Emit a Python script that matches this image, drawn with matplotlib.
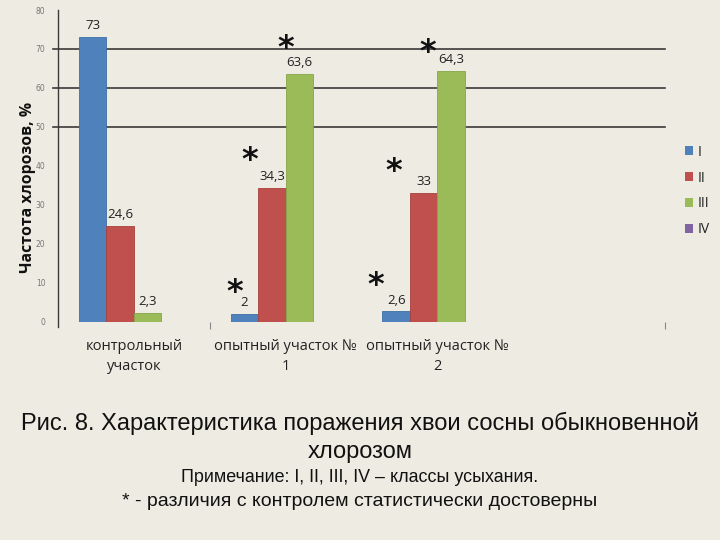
import matplotlib
matplotlib.use("Agg")
import matplotlib.pyplot as plt
from matplotlib.patches import Patch
import numpy as np

categories = ["контрольный\nучасток", "опытный участок №\n1", "опытный участок №\n2", ""]
series_names = ["I", "II", "III", "IV"]
series_I = [73, 2, 2.6, np.nan]
series_II = [24.6, 34.3, 33, np.nan]
series_III = [2.3, 63.6, 64.3, np.nan]
series_IV = [np.nan, np.nan, np.nan, np.nan]
labels_I = ["73", "2", "2,6"]
labels_II = ["24,6", "34,3", "33"]
labels_III = ["2,3", "63,6", "64,3"]
# significance stars: (series index, category index)
stars = [(0, 1), (1, 1), (2, 1), (0, 2), (1, 2), (2, 2)]
yticks = [0, 10, 20, 30, 40, 50, 60, 70, 80]
gridlines = [50, 60, 70]

colors = ["#4F81BD", "#C0504D", "#9BBB59", "#8064A2"]
edges = ["#3F6FA5", "#A8403D", "#86A649", "#6B5190"]
bg = "#EEEBE2"

fig = plt.figure(figsize=(7.2, 5.4), dpi=100, facecolor=bg)
ax = fig.add_axes([58/720, 1-322/540, 607/720, 312/540])
ax.set_facecolor(bg)

x = np.arange(len(categories))
w = 0.181
offsets = [-1.5*w, -0.5*w, 0.5*w, 1.5*w]
all_series = [series_I, series_II, series_III, series_IV]
all_labels = [labels_I, labels_II, labels_III, None]
lbl_font = "Open Sans"
for i, (vals, col) in enumerate(zip(all_series, colors)):
    ax.bar(x + offsets[i], vals, width=w, color=col, edgecolor=edges[i], linewidth=0.6, zorder=3)
    if all_labels[i]:
        for j, t in enumerate(all_labels[i]):
            ax.annotate(t, (x[j] + offsets[i], vals[j]), xytext=(0, 3.5), textcoords="offset points",
                        ha="center", va="bottom", fontsize=9.5, color="#222222", family=lbl_font, zorder=4)

# star offsets in points relative to bar top-center
star_off = {(0, 1): (-6.7, 15.7), (1, 1): (-15.8, 20), (2, 1): (-10, 18),
            (0, 2): (-14.6, 19), (1, 2): (-21.8, 15.4), (2, 2): (-16.8, 13.3)}
for (si, ci) in stars:
    dx, dy = star_off[(si, ci)]
    ax.annotate("*", (x[ci] + offsets[si], all_series[si][ci]), xytext=(dx, dy), textcoords="offset points",
                ha="center", va="center", fontsize=23, fontweight="bold", color="#111111",
                family="DejaVu Sans", zorder=5)

ax.set_xlim(-0.5, 3.5)
for g in gridlines:
    ax.plot([-0.535, 3.5], [g, g], color="#3A3A3A", lw=1.2, zorder=1, clip_on=False)
ax.set_yticks(yticks)
ax.set_yticklabels([str(v) for v in yticks], fontsize=5.5, color="#777777")
ax.tick_params(axis="y", length=0, pad=9)
ax.set_xticks([0.5, 3.5])
ax.set_xticklabels(["", ""])
ax.tick_params(axis="x", length=5, color="#888888", width=0.8, direction="out")
for s in ["top", "right", "bottom"]:
    ax.spines[s].set_visible(False)
ax.spines["left"].set_color("#3A3A3A")
ax.spines["left"].set_linewidth(1.0)
ax.spines["left"].set_bounds(-1.5, 80)
ax.set_ylim(-0.1, 80)

for j, c in enumerate(categories):
    if c:
        ax.text(x[j], -4.5, c, ha="center", va="top", fontsize=10.5, color="#222222",
                family=lbl_font, linespacing=1.45, transform=ax.transData)

fig.text(28/720, 1-187/540, "Частота хлорозов, %", rotation=90, ha="center", va="center",
         fontsize=11.3, fontweight="bold", color="#111111", family=lbl_font)

handles = [Patch(facecolor=c, edgecolor="none") for c in colors]
leg = fig.legend(handles, series_names, loc="center left", bbox_to_anchor=(672/720, 1-191/540),
                 frameon=False, handlelength=0.6, handleheight=0.6, labelspacing=0.78,
                 prop={"family": lbl_font, "size": 10}, handletextpad=0.35)
for t in leg.get_texts():
    t.set_color("#222222")

fig.text(0.5, 1-423/540, "Рис. 8. Характеристика поражения хвои сосны обыкновенной",
         ha="center", va="center", fontsize=17, family="Liberation Sans", color="#111111")
fig.text(0.5, 1-452/540, "хлорозом", ha="center", va="center", fontsize=17,
         family="Liberation Sans", color="#111111")
fig.text(0.5, 1-478/540, "Примечание: I, II, III, IV – классы усыхания.", ha="center", va="center",
         fontsize=12.9, family="Liberation Sans", color="#111111")
fig.text(0.5, 1-501/540, "* - различия с контролем статистически достоверны", ha="center", va="center",
         fontsize=14, family="Liberation Sans", color="#111111")

fig.savefig("out.png", dpi=100, facecolor=bg)
